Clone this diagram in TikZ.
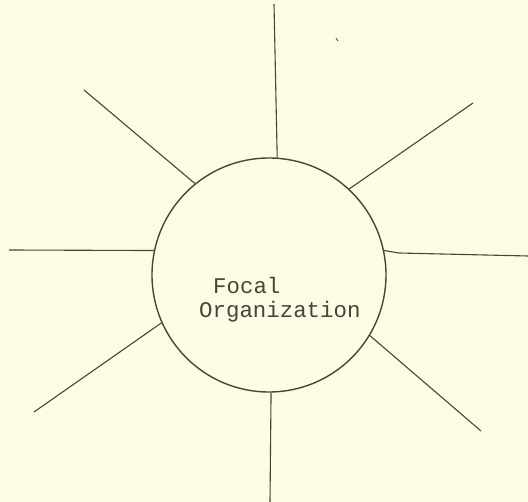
\documentclass[tikz,border=0pt]{standalone}
\usepackage{fontspec}
\setmonofont{Liberation Mono}
\usetikzlibrary{positioning}
\definecolor{paper}{HTML}{FDFBE4}
\definecolor{ink}{HTML}{45453C}
\tikzset{ray/.style={draw=ink, line width=1.1pt}}

\begin{document}
\begin{tikzpicture}[x=1pt, y=-1pt]

            % Hintergrund
            \fill[paper] (0,0) rectangle (528,502);
            \useasboundingbox (0,0) rectangle (528,502);

            % Kreis der fokalen Organisation
            \node[circle, draw=ink, line width=1.4pt, minimum size=234pt, inner sep=0pt] (focal) at (269,275) {};

            % Text im Kreis
            \node[anchor=base west, inner sep=0pt, font=\ttfamily\fontsize{22.4}{24}\selectfont, text=ink] (focalA) at (213,294) {Focal};
            \node[anchor=base west, inner sep=0pt, font=\ttfamily\fontsize{22.4}{24}\selectfont, text=ink] (focalB) at (199,318) {Organization};

            % Endpunkte der Strahlen
            \coordinate (top) at (274,4);
            \coordinate (ur) at (473,103);
            \coordinate (rt) at (528,256);
            \coordinate (lr) at (481,431);
            \coordinate (bot) at (270,502);
            \coordinate (ll) at (34,412);
            \coordinate (lt) at (9,250);
            \coordinate (ul) at (84,90);

            % Strahlen
            \draw[ray] (focal.86) -- (top);
            \draw[ray] (focal.47) -- (ur);
            \draw[ray] (focal.12) -- (399,253) -- (rt);
            \draw[ray] (focal.-31) -- (lr);
            \draw[ray] (focal.-89) -- (bot);
            \draw[ray] (focal.204) -- (ll);
            \draw[ray] (focal.168) -- (lt);
            \draw[ray] (focal.129) -- (ul);

            % kleiner Fleck
            \draw[ink, line width=0.8pt] (336,38) -- (338,41);

\end{tikzpicture}
\end{document}
